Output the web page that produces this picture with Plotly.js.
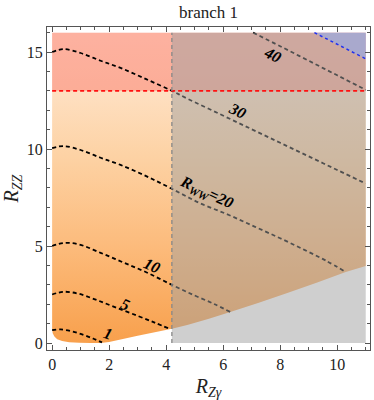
<!DOCTYPE html>
<html>
<head>
<meta charset="utf-8">
<script src="https://cdn.plot.ly/plotly-3.0.1.min.js"></script>
<style>
  html, body { margin: 0; padding: 0; background: #fff; }
</style>
</head>
<body>
<div id="chart" style="width:374px;height:400px;"></div>
<script>
// lower edge of the allowed region
const edgeX = [0, 0.02, 0.08, 0.18, 0.35, 0.6, 0.95, 1.35, 1.7, 2.0, 2.4, 3.0, 3.6, 4.2, 4.74, 5.5, 6.25, 7.25, 8.25, 9.3, 10.3, 11];
const edgeY = [0.72, 0.5, 0.33, 0.2, 0.1, 0.04, 0.01, 0, 0, 0.05, 0.18, 0.37, 0.55, 0.74, 0.93, 1.25, 1.6, 2.08, 2.58, 3.12, 3.66, 3.97];

const xMax = 11;
const yMax = 16;
const rZZLimit = 13;     // red dashed bound
const rZgLimit = 4.2;    // gray dashed bound

// R_WW contours
const c1X = [0, 0.3, 0.7, 1.1, 1.45, 1.75];
const c1Y = [0.66, 0.7, 0.6, 0.42, 0.22, 0.03];
const c5X = [0, 0.4, 0.9, 1.5, 2.2, 3.0, 3.6, 4.12];
const c5Y = [2.5, 2.64, 2.55, 2.25, 1.85, 1.4, 1.05, 0.73];
const c10X = [0, 0.4, 0.9, 1.7, 2.5, 3.3, 4.2, 5.0, 5.7, 6.25];
const c10Y = [5.0, 5.15, 5.1, 4.65, 4.15, 3.65, 3.0, 2.45, 2.0, 1.6];
const c20X = [0, 0.4, 1, 1.7, 2.4, 3.3, 4.2, 5.2, 6.2, 7.1, 8.0, 8.85, 9.6, 10.3];
const c20Y = [10.05, 10.15, 9.95, 9.55, 9.18, 8.6, 7.95, 7.2, 6.6, 6.0, 5.4, 4.8, 4.25, 3.66];
const c30X = [0, 0.4, 1, 1.7, 2.4, 3.3, 4.2, 4.74, 5.9, 7.0, 8.0, 9.0, 10.0, 11];
const c30Y = [15.0, 15.15, 14.95, 14.55, 14.18, 13.6, 13.0, 12.6, 11.79, 11.02, 10.32, 9.62, 8.92, 8.22];
const c40X = [7.05, 8, 9, 10, 11];
const c40Y = [16, 15.3, 14.55, 13.8, 13.05];
const blueX = [9.2, 10, 11];
const blueY = [16, 15.4, 14.65];

const labelText = ['1', '5', '10', '<i>R</i><sub><i>WW</i></sub><i>=20</i>', '30', '40'];
const labelX = [1.96, 2.56, 3.5, 5.4, 6.49, 7.72];
const labelY = [0.5, 1.96, 4.0, 7.75, 12.0, 14.85];
const labelAngle = [18, 22, 24, 25, 26, 27];

const serif = '"Liberation Serif", "Times New Roman", serif';

function contour(x, y) {
  return {
    x: x, y: y, mode: 'lines', type: 'scatter', hoverinfo: 'skip',
    line: { color: '#000', width: 1.8, dash: '4px,3px', shape: 'spline' }
  };
}

const traces = [
  // orange region
  {
    x: edgeX.concat([xMax, 0, 0]),
    y: edgeY.concat([yMax, yMax, edgeY[0]]),
    mode: 'none', type: 'scatter', fill: 'toself',
    fillgradient: {
      type: 'vertical', start: 0, stop: yMax,
      colorscale: [[0, '#F8A04C'], [0.3, '#FCBA7A'], [0.6, '#FDD2A4'], [0.8, '#FEDFC0'], [1, '#FFE8D2']]
    },
    hoverinfo: 'skip'
  },
  // red band
  {
    x: [0, xMax, xMax, 0], y: [rZZLimit, rZZLimit, yMax, yMax],
    mode: 'none', type: 'scatter', fill: 'toself',
    fillcolor: 'rgba(250,110,100,0.45)', hoverinfo: 'skip'
  },
  // blue corner
  {
    x: blueX.concat([xMax]), y: blueY.concat([yMax]),
    mode: 'none', type: 'scatter', fill: 'toself',
    fillcolor: 'rgb(178,178,250)', hoverinfo: 'skip'
  },
  contour(c1X, c1Y),
  contour(c5X, c5Y),
  contour(c10X, c10Y),
  contour(c20X, c20Y),
  contour(c30X, c30Y),
  contour(c40X, c40Y),
  // gray band
  {
    x: [rZgLimit, xMax, xMax, rZgLimit], y: [0, 0, yMax, yMax],
    mode: 'none', type: 'scatter', fill: 'toself',
    fillcolor: 'rgba(160,160,160,0.5)', hoverinfo: 'skip'
  },
  {
    x: [0, xMax], y: [rZZLimit, rZZLimit], mode: 'lines', type: 'scatter',
    line: { color: '#FF1010', width: 1.7, dash: '4px,3px' }, hoverinfo: 'skip'
  },
  {
    x: blueX, y: blueY, mode: 'lines', type: 'scatter',
    line: { color: '#2030F0', width: 1.5, dash: '3px,3px' }, hoverinfo: 'skip'
  },
  {
    x: [rZgLimit, rZgLimit], y: [0, yMax], mode: 'lines', type: 'scatter',
    line: { color: '#888', width: 1.3, dash: '4px,3px' }, hoverinfo: 'skip'
  }
];

const annotations = labelText.map((t, i) => ({
  x: labelX[i], y: labelY[i], text: '<b><i>' + t + '</i></b>',
  showarrow: false, textangle: labelAngle[i],
  font: { family: serif, size: 16, color: '#000' }
}));

const axisCommon = {
  showgrid: false, zeroline: false,
  showline: true, linecolor: '#555', linewidth: 1, mirror: 'allticks',
  ticks: 'inside', ticklen: 5, tickcolor: '#555', tickwidth: 1,
  tickfont: { family: serif, size: 16, color: '#222' },
  minor: { ticks: 'inside', ticklen: 3, tickcolor: '#555', tickwidth: 1 }
};

Plotly.newPlot('chart', traces, {
  width: 374, height: 400,
  showlegend: false,
  margin: { l: 47, r: 4, t: 27, b: 50, pad: 0 },
  paper_bgcolor: '#fff', plot_bgcolor: '#fff',
  title: {
    text: 'branch 1', x: 0.5, xref: 'paper', y: 0.97, yanchor: 'middle',
    font: { family: serif, size: 17, color: '#222' }
  },
  xaxis: Object.assign({}, axisCommon, {
    range: [-0.18, 11.15], tickvals: [0, 2, 4, 6, 8, 10],
    minor: Object.assign({}, axisCommon.minor, { dtick: 0.5, tick0: 0 }),
    title: { text: '<i>R</i><sub><i>Zγ</i></sub>', standoff: 10, font: { family: serif, size: 20, color: '#222' } }
  }),
  yaxis: Object.assign({}, axisCommon, {
    range: [-0.36, 16.29], tickvals: [0, 5, 10, 15],
    minor: Object.assign({}, axisCommon.minor, { dtick: 1, tick0: 0 }),
    title: { text: '<i>R</i><sub><i>ZZ</i></sub>', standoff: 6, font: { family: serif, size: 20, color: '#222' } }
  }),
  annotations: annotations
}, { staticPlot: true });
</script>
</body>
</html>
